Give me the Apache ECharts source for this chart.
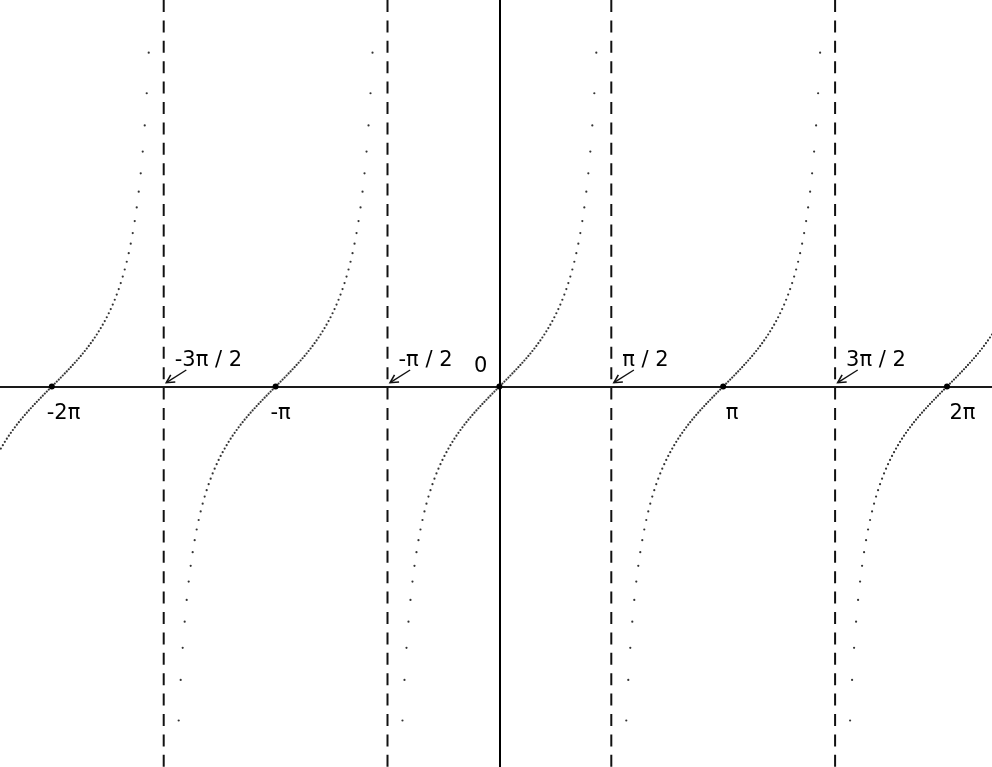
<!DOCTYPE html>
<html>
<head>
<meta charset="utf-8">
<script src="https://cdn.jsdelivr.net/npm/echarts@6/dist/echarts.min.js"></script>
<style>
  html, body { margin: 0; padding: 0; background: #fff; }
  #chart { width: 992px; height: 767px; }
</style>
</head>
<body>
<div id="chart"></div>
<script>
// y = tan x, x measured in multiples of π.
// One branch is sampled on a half-step grid: x = (j + 0.5) / 112, j = 0..51
const STEP_DIV = 112;
const tanBranch = [
  0.014026, 0.042100, 0.070240, 0.098491, 0.126900, 0.155511, 0.184372, 0.213535,
  0.243048, 0.272967, 0.303347, 0.334248, 0.365736, 0.397876, 0.430742, 0.464412,
  0.498971, 0.534511, 0.571134, 0.608950, 0.648079, 0.688658, 0.730837, 0.774782,
  0.821117, 0.868740, 0.919202, 0.972336, 1.028451, 1.087900, 1.151092, 1.217853,
  1.290686, 1.368294, 1.452086, 1.543016, 1.642171, 1.750902, 1.870869, 2.004124,
  2.153261, 2.321575, 2.513348, 2.734207, 2.991790, 3.296555, 3.663447, 4.114414,
  4.683073, 5.423817, 6.430413, 7.880221
];

// zeros of tan x and their labels
const zeros = [-2, -1, 0, 1, 2];
const zeroLabels = ['-2π', '-π', '0', 'π', '2π'];

// vertical asymptotes and their labels
const asymptotes = [-1.5, -0.5, 0.5, 1.5];
const asymptoteLabels = ['-3π / 2', '-π / 2', 'π / 2', '3π / 2'];

const X_MIN = -2.2315, X_MAX = 2.2011;
const Y_MIN = -5.335, Y_MAX = 5.422;

const FONT = '21px "DejaVu Sans"';
const INK = '#111';

// every branch of the curve, one per zero
const curve = [];
zeros.forEach(function (c) {
  for (let j = tanBranch.length - 1; j >= 0; j--) {
    curve.push([c - (j + 0.5) / STEP_DIV, -tanBranch[j]]);
  }
  for (let j = 0; j < tanBranch.length; j++) {
    curve.push([c + (j + 0.5) / STEP_DIV, tanBranch[j]]);
  }
});

const measure = document.createElement('canvas').getContext('2d');
measure.font = FONT;
const minusWidth = measure.measureText('-').width;

function renderAsymptote(params, api) {
  const x = api.value(0);
  const top = api.coord([x, Y_MAX]);
  const bottom = api.coord([x, Y_MIN]);
  const o = api.coord([x, 0]);
  const label = asymptoteLabels[api.value(1)];

  // small arrow pointing at the foot of the asymptote
  const tip = [o[0] + 2.6, o[1] - 3.9];
  const tail = [o[0] + 22.6, o[1] - 16.6];
  const dx = tail[0] - tip[0], dy = tail[1] - tip[1];
  const len = Math.sqrt(dx * dx + dy * dy);
  const ux = dx / len, uy = dy / len;
  const barb = function (ang) {
    const c = Math.cos(ang), s = Math.sin(ang);
    return [tip[0] + 9 * (ux * c - uy * s), tip[1] + 9 * (ux * s + uy * c)];
  };

  return {
    type: 'group',
    children: [
      {
        type: 'line',
        shape: { x1: top[0], y1: top[1], x2: bottom[0], y2: bottom[1] },
        style: { stroke: INK, lineWidth: 2, lineDash: [12, 8.4] }
      },
      {
        type: 'polyline',
        shape: { points: [tail, tip] },
        style: { stroke: INK, lineWidth: 1.4, fill: null }
      },
      {
        type: 'polyline',
        shape: { points: [barb(0.49), tip, barb(-0.49)] },
        style: { stroke: INK, lineWidth: 1.6, fill: null }
      },
      {
        type: 'text',
        style: {
          x: o[0] + 11, y: o[1] - 26, text: label, font: FONT,
          fill: '#000', align: 'left', verticalAlign: 'middle'
        }
      }
    ]
  };
}

function renderZero(params, api) {
  const x = api.value(0);
  const o = api.coord([x, 0]);
  const label = zeroLabels[api.value(1)];
  let textStyle;
  if (x === 0) {
    textStyle = { x: o[0] - 12, y: o[1] - 20.3, align: 'right' };
  } else {
    const shift = label.charAt(0) === '-' ? minusWidth : 0;
    textStyle = { x: o[0] + 2.5 - shift, y: o[1] + 27, align: 'left' };
  }
  return {
    type: 'group',
    children: [
      {
        type: 'circle',
        shape: { cx: o[0], cy: o[1], r: 3 },
        style: { fill: '#000' }
      },
      {
        type: 'text',
        style: Object.assign({
          text: label, font: FONT, fill: '#000', verticalAlign: 'middle'
        }, textStyle)
      }
    ]
  };
}

const chart = echarts.init(document.getElementById('chart'), null, { renderer: 'canvas' });
chart.setOption({
  animation: false,
  backgroundColor: '#fff',
  grid: { left: 0, right: 0, top: 0, bottom: 0, containLabel: false },
  xAxis: {
    type: 'value', min: X_MIN, max: X_MAX,
    axisLine: { show: true, onZero: true, lineStyle: { color: '#1a1a1a', width: 2 } },
    axisTick: { show: false }, axisLabel: { show: false }, splitLine: { show: false }
  },
  yAxis: {
    type: 'value', min: Y_MIN, max: Y_MAX,
    axisLine: { show: true, onZero: true, lineStyle: { color: '#000', width: 2 } },
    axisTick: { show: false }, axisLabel: { show: false }, splitLine: { show: false }
  },
  series: [
    {
      type: 'custom',
      silent: true,
      clip: true,
      data: asymptotes.map(function (a, i) { return [a, i]; }),
      renderItem: renderAsymptote,
      z: 2
    },
    {
      type: 'scatter',
      silent: true,
      clip: true,
      symbol: 'circle',
      symbolSize: 2.2,
      itemStyle: { color: '#000' },
      data: curve,
      z: 3
    },
    {
      type: 'custom',
      silent: true,
      data: zeros.map(function (z, i) { return [z, i]; }),
      renderItem: renderZero,
      z: 4
    }
  ]
});
</script>
</body>
</html>
